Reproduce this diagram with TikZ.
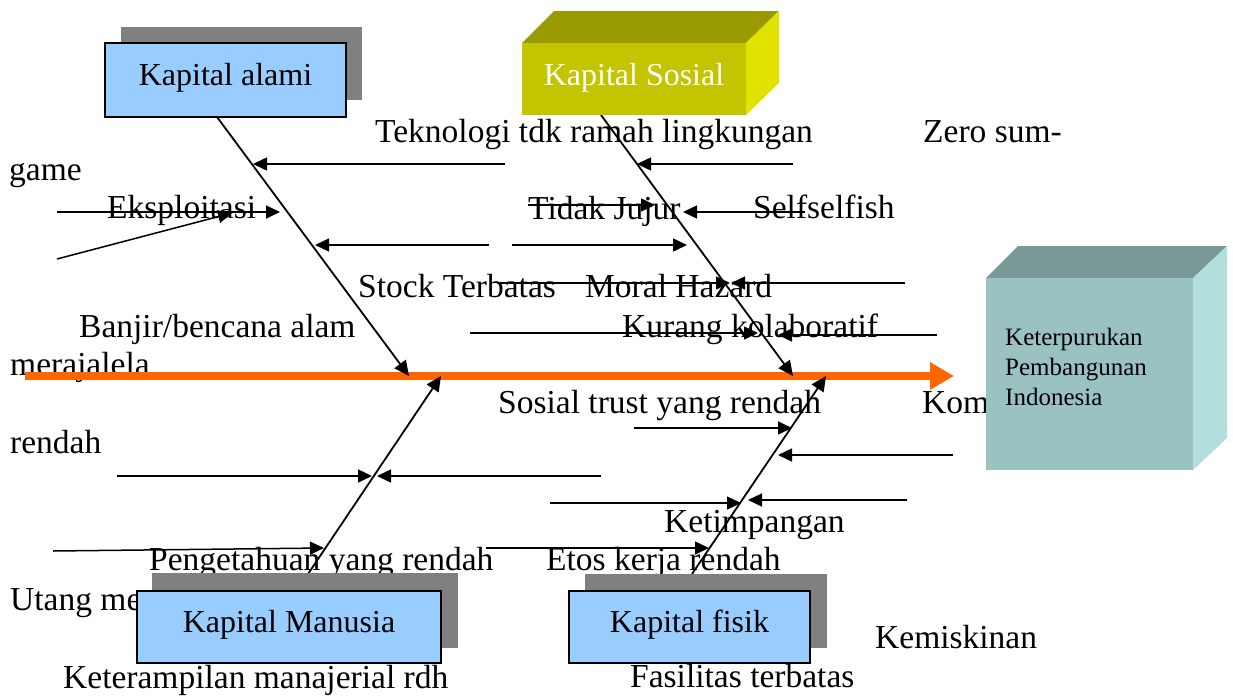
\documentclass[tikz,border=0pt]{standalone}
\usepackage{fontspec}
\setmainfont{Liberation Serif}
\usetikzlibrary{arrows.meta}
\definecolor{lblue}{HTML}{99CCFF}
\definecolor{shgray}{HTML}{808080}
\definecolor{olfront}{HTML}{C4C400}
\definecolor{oltop}{HTML}{999900}
\definecolor{olside}{HTML}{E2E200}
\definecolor{cbfront}{HTML}{9AC2C2}
\definecolor{cbtop}{HTML}{7A9896}
\definecolor{cbside}{HTML}{B2DEDE}
\definecolor{spinecol}{HTML}{FF6600}
\begin{document}
\begin{tikzpicture}[x=1pt,y=-1pt,
  lbl/.style={anchor=base west, inner sep=0pt, font=\fontsize{33.5}{40}\selectfont},
  kbox/.style={draw=black, line width=2pt, fill=lblue, inner sep=0pt,
     font=\fontsize{32}{38}\selectfont, text height=22pt, text depth=12pt},
  minor/.style={line width=1.5pt, -{Triangle[length=14pt,width=13pt]}},
  bone/.style={line width=1.8pt, -{Triangle[length=15pt,width=14pt]}},
  spine/.style={line width=8pt, draw=spinecol, -{Triangle[length=24pt,width=26pt]}}
]
\useasboundingbox (0,0) rectangle (1233,696);

% ---------- labels ----------
\node[lbl] (t1) at (375,142) {Teknologi tdk ramah lingkungan};
\node[lbl] (t2) at (923,142) {Zero sum-};
\node[lbl] (t3) at (9,180) {game};
\node[lbl] (t4) at (107,218) {Eksploitasi};
\node[lbl] (t5) at (528,219) {Tidak Jujur};
\node[lbl] (t6) at (753,218) {Selfselfish};
\node[lbl] (t7) at (358,297) {Stock Terbatas};
\node[lbl] (t8) at (585,297) {Moral Hazard};
\node[lbl] (t9) at (79,337) {Banjir/bencana alam};
\node[lbl] (t10) at (622,337) {Kurang kolaboratif};
\node[lbl] (t11) at (10,375) {merajalela};
\node[lbl] (t12) at (498,413) {Sosial trust yang rendah};
\node[lbl] (t13) at (922,413) {Kom};
\node[lbl] (t14) at (10,453) {rendah};
\node[lbl] (t15) at (664,532) {Ketimpangan};
\node[lbl] (t16) at (149,570) {Pengetahuan yang rendah};
\node[lbl] (t17) at (546,570) {Etos kerja rendah};
\node[lbl] (t18) at (10,610) {Utang me};
\node[lbl] (t19) at (63,688) {Keterampilan manajerial rdh};
\node[lbl] (t20) at (630,687) {Fasilitas terbatas};
\node[lbl] (t21) at (875,648) {Kemiskinan};

% ---------- spine ----------
\coordinate (spS) at (25,376);
\coordinate (spE) at (954,376);
\draw[spine] (spS) -- (spE);

% ---------- bones ----------
\coordinate (bA1) at (217,117); \coordinate (bA2) at (409,376);
\coordinate (bB1) at (601,115); \coordinate (bB2) at (793,376);
\coordinate (bC1) at (308,574); \coordinate (bC2) at (441,376);
\coordinate (bD1) at (692,574); \coordinate (bD2) at (826,376);
\draw[bone] (bA1) -- (bA2);
\draw[bone] (bB1) -- (bB2);
\draw[bone] (bC1) -- (bC2);
\draw[bone] (bD1) -- (bD2);

% ---------- minor arrows ----------
\coordinate (m1s) at (505,164);  \coordinate (m1e) at (253,164);
\coordinate (m2s) at (793,164);  \coordinate (m2e) at (637,164);
\coordinate (m3s) at (57,212);   \coordinate (m3e) at (280,212);
\coordinate (m4s) at (57,259);   \coordinate (m4e) at (232,213);
\coordinate (m5s) at (489,245);  \coordinate (m5e) at (315,245);
\coordinate (m6s) at (512,245);  \coordinate (m6e) at (687,245);
\coordinate (m7s) at (528,205);  \coordinate (m7e) at (655,205);
\coordinate (m8s) at (805,212);  \coordinate (m8e) at (683,212);
\coordinate (m9s) at (497,283);  \coordinate (m9e) at (730,283);
\coordinate (m10s) at (905,283); \coordinate (m10e) at (731,283);
\coordinate (m11s) at (470,333); \coordinate (m11e) at (758,333);
\coordinate (m12s) at (937,335); \coordinate (m12e) at (778,335);
\coordinate (m13s) at (634,428); \coordinate (m13e) at (792,428);
\coordinate (m14s) at (953,455); \coordinate (m14e) at (778,455);
\coordinate (m15s) at (117,476); \coordinate (m15e) at (372,476);
\coordinate (m16s) at (601,476); \coordinate (m16e) at (377,476);
\coordinate (m17s) at (550,503); \coordinate (m17e) at (741,503);
\coordinate (m18s) at (907,500); \coordinate (m18e) at (748,500);
\coordinate (m19s) at (53,551);  \coordinate (m19e) at (324,548);
\coordinate (m20s) at (486,548); \coordinate (m20e) at (709,548);
\foreach \i in {1,...,20} {\draw[minor] (m\i s) -- (m\i e);}

% ---------- Kapital alami ----------
\fill[shgray] (121,27) rectangle (362,100);
\node[kbox, minimum width=241pt, minimum height=74pt] (alami) at (225.5,80) {Kapital alami};

% ---------- Kapital Sosial (3D) ----------
\fill[oltop] (522,43) -- (554,11) -- (779,11) -- (746,43) -- cycle;
\fill[olside] (746,43) -- (779,11) -- (779,83) -- (746,115) -- cycle;
\node[fill=olfront, inner sep=0pt, minimum width=224pt, minimum height=72pt,
  text=white, font=\fontsize{32}{38}\selectfont, text height=22pt, text depth=10pt]
  (sosial) at (634,79) {Kapital Sosial};

% ---------- Kapital Manusia ----------
\fill[shgray] (152,573) rectangle (458,648);
\node[kbox, minimum width=304pt, minimum height=72pt] (manusia) at (289,627) {Kapital Manusia};

% ---------- Kapital fisik ----------
\fill[shgray] (585,574) rectangle (827,648);
\node[kbox, minimum width=241pt, minimum height=72pt] (fisik) at (689.5,627) {Kapital fisik};

% ---------- Keterpurukan cube ----------
\fill[cbtop] (986,278) -- (1018,246) -- (1227,246) -- (1193,278) -- cycle;
\fill[cbside] (1193,278) -- (1227,246) -- (1227,438) -- (1193,470) -- cycle;
\fill[cbfront] (986,278) rectangle (1193,470);
\node[anchor=north west, inner sep=0pt, align=left, font=\fontsize{25}{30}\selectfont]
  (hasil) at (1005,328) {Keterpurukan\\Pembangunan\\Indonesia};
\end{tikzpicture}
\end{document}
